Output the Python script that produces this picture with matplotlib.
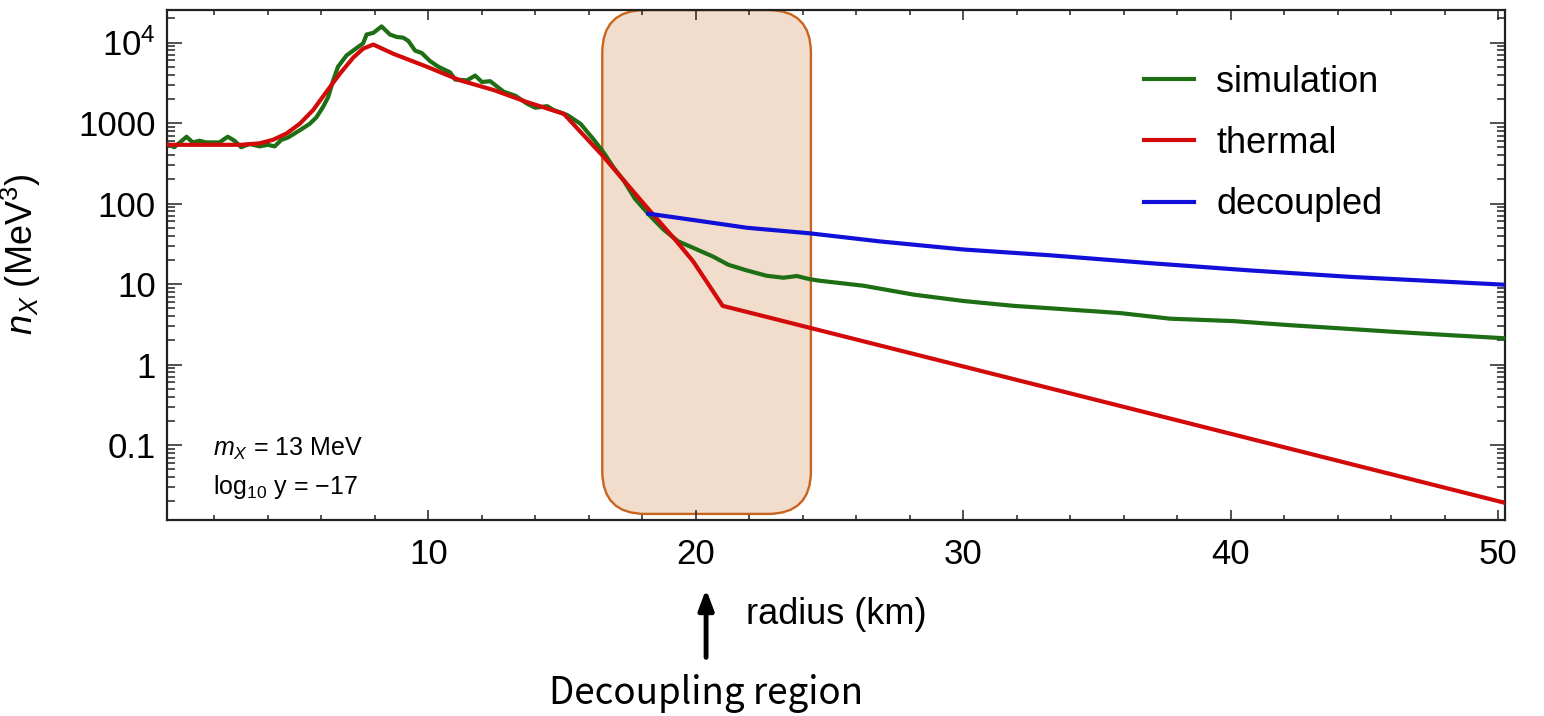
import matplotlib.pyplot as plt
from matplotlib.patches import FancyBboxPatch
from matplotlib.ticker import FixedLocator, FixedFormatter, LogLocator, MultipleLocator, NullFormatter
import matplotlib.transforms as mtransforms

plt.rcParams['font.family'] = ['Liberation Sans', 'DejaVu Sans']
plt.rcParams['mathtext.fontset'] = 'custom'
plt.rcParams['mathtext.rm'] = 'Liberation Sans'
plt.rcParams['mathtext.it'] = 'Liberation Sans:italic'
plt.rcParams['mathtext.bf'] = 'Liberation Sans:bold'

#simulation (green)
r_sim = [0.3, 0.5, 0.96, 1.19, 1.44, 1.69, 2.19, 2.5, 2.75, 3.0, 3.31, 3.69, 4.0, 4.25,
         4.5, 4.75, 5.19, 5.56, 5.81, 6.06, 6.25, 6.44, 6.62, 6.94, 7.31, 7.56, 7.69,
         7.94, 8.25, 8.56, 8.81, 9.06, 9.25, 9.5, 9.75, 10.06, 10.37, 10.62, 10.81, 11.0,
         11.44, 11.75, 12.0, 12.31, 12.81, 13.25, 13.69, 14.0, 14.44, 14.69, 15.19, 15.69,
         16.19, 16.56, 16.94, 17.31, 17.72, 18.28, 18.78, 19.34, 19.9, 20.65, 21.21, 21.9,
         22.64, 23.27, 23.77, 24.26, 24.64, 26.26, 28.13, 30.0, 31.87, 33.24, 35.85, 37.73,
         40.1, 42.2, 44.1, 45.96, 48.2, 50.3]
n_sim = [537, 501, 676, 575, 603, 575, 575, 676, 603, 501, 550, 513, 537, 513,
         617, 661, 813, 977, 1175, 1585, 2089, 3388, 5012, 6918, 8511, 9772, 12589,
         13183, 15849, 12589, 11749, 11482, 10471, 7943, 7413, 5888, 5012, 4571, 4266, 3467,
         3388, 3890, 3236, 3311, 2455, 2188, 1738, 1549, 1622, 1445, 1259, 977,
         617, 427, 275, 191, 115, 70.8, 47.9, 33.9, 28.2, 21.9, 17.4, 14.8,
         12.7, 12.0, 12.6, 11.5, 11.0, 9.55, 7.41, 6.17, 5.37, 5.01, 4.37, 3.72,
         3.47, 3.09, 2.82, 2.57, 2.32, 2.12]

#thermal (red)
r_th = [0.2, 3.0, 3.69, 4.19, 4.69, 5.19, 5.69, 6.19, 6.69, 7.19, 7.56, 7.94, 8.69, 9.94,
        11.19, 12.44, 13.69, 15.06, 16.5, 18.15, 19.28, 19.9, 21.0, 50.3]
n_th = [537, 537, 560, 620, 740, 980, 1450, 2450, 4100, 6500, 8400, 9441, 7244, 5012,
        3388, 2570, 1820, 1303, 398, 91.2, 33.9, 19.1, 5.37, 0.019]

#decoupled (blue)
r_dec = [18.22, 20.02, 21.9, 24.26, 26.88, 30.0, 33.24, 36.98, 40.7, 44.46, 50.3]
n_dec = [75, 61.7, 50.1, 42.7, 33.9, 26.9, 22.8, 18.2, 14.8, 12.3, 9.8]

decoupling_region = [16.5, 24.3]

x_ticks = [10, 20, 30, 40, 50]
y_ticks = [0.1, 1, 10, 100, 1000, 10000]
y_labels = ['0.1', '1', '10', '100', '1000', r'$10^4$']

fig = plt.figure(figsize=(15.44, 7.16), dpi=100)
ax = fig.add_axes([0.1082, 0.2737, 0.8666, 0.713])

c_green = '#1d6e14'
c_red = '#d20a0a'
c_blue = '#1010d8'

ax.plot(r_sim, n_sim, color=c_green, lw=3, label='simulation', zorder=3)
ax.plot(r_th, n_th, color=c_red, lw=3, label='thermal', zorder=3)
ax.plot(r_dec, n_dec, color=c_blue, lw=3, label='decoupled', zorder=3)

ax.set_yscale('log')
ax.set_xlim(0.23, 50.25)
ax.set_ylim(10 ** -1.93, 10 ** 4.41)

#rounded box for the decoupling region
trans = mtransforms.blended_transform_factory(ax.transData, ax.transAxes)
box = FancyBboxPatch((decoupling_region[0], 0.012), decoupling_region[1] - decoupling_region[0], 0.987,
                     boxstyle='round,pad=0,rounding_size=1.6', mutation_aspect=0.0523,
                     transform=trans, facecolor='#f2dccb', edgecolor='#c8641e', lw=1.7, zorder=1)
ax.add_patch(box)

ax.xaxis.set_major_locator(FixedLocator(x_ticks))
ax.xaxis.set_minor_locator(MultipleLocator(2))
ax.yaxis.set_major_locator(FixedLocator(y_ticks))
ax.yaxis.set_major_formatter(FixedFormatter(y_labels))
ax.yaxis.set_minor_locator(LogLocator(base=10, subs=[2, 3, 4, 5, 6, 7, 8, 9], numticks=20))
ax.yaxis.set_minor_formatter(NullFormatter())

ax.tick_params(which='both', direction='in', top=True, right=True, width=1.1, colors='#222222')
ax.tick_params(axis='x', which='major', length=7.5, pad=13, labelsize=25, labelcolor='black')
ax.tick_params(axis='x', which='minor', length=3.8)
ax.tick_params(axis='y', which='major', length=11, pad=8, labelsize=25, labelcolor='black')
ax.tick_params(axis='y', which='minor', length=6)
for s in ax.spines.values():
    s.set_linewidth(1.6)
    s.set_color('#222222')

ax.set_xlabel('radius (km)', fontsize=26)
ax.xaxis.set_label_coords(0.5, -0.15)
ax.set_ylabel(r'$n_X$ (MeV$^3$)', fontsize=26)
ax.yaxis.set_label_coords(-0.093, 0.52)

ax.text(0.034, 0.14, r'$m_X$ = 13 MeV', transform=ax.transAxes, fontsize=18, va='center')
ax.text(0.034, 0.064, r'log$_{10}$ y = −17', transform=ax.transAxes, fontsize=18, va='center')

ax.legend(loc='upper left', bbox_to_anchor=(0.73, 0.892), frameon=False, fontsize=26,
          handlelength=1.4, handletextpad=0.6, labelspacing=0.73, borderpad=0, borderaxespad=0)

#arrow and note below the axis
ax.annotate('', xy=(0.4573, 0.181), xytext=(0.4573, 0.078), xycoords='figure fraction',
            textcoords='figure fraction', annotation_clip=False,
            arrowprops=dict(arrowstyle='-|>,head_length=1.2,head_width=0.45', lw=3.5, color='black'))
fig.text(0.4573, 0.032, 'Decoupling region', ha='center', va='center', fontsize=26.5,
         family=['Noto Sans CJK JP', 'DejaVu Sans'])

fig.savefig('out.png', dpi=100)
